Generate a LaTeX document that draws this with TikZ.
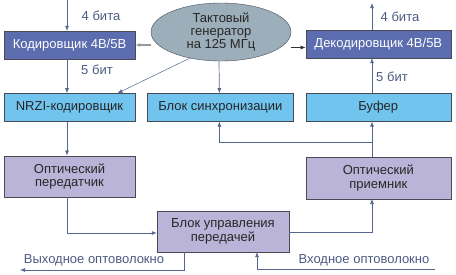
\documentclass[tikz,border=0pt]{standalone}
\usepackage{fontspec}
\setmainfont{Liberation Sans}
\usetikzlibrary{shapes.geometric, arrows.meta, positioning, calc}
\definecolor{codeblue}{HTML}{5B6DAE}
\definecolor{skyblue}{HTML}{70C4EE}
\definecolor{lavender}{HTML}{BAB4D8}
\definecolor{clkgray}{HTML}{9DAEBB}
\definecolor{boxedge}{HTML}{4A4A55}
\definecolor{wireblue}{HTML}{56678F}
\definecolor{labelblue}{HTML}{4B5A80}
\tikzset{
  blk/.style={
    rectangle, draw=boxedge, fill=#1, align=center,
    minimum height=28pt, inner sep=0pt,
    font=\fontsize{13}{13.5}\selectfont
  },
  darkbox/.style={blk=codeblue, text=white},
  lightbox/.style={blk=skyblue, text=black!85},
  lilabox/.style={blk=lavender, text=black!85, minimum height=41pt},
  clkgen/.style={
    ellipse, draw=boxedge, fill=clkgray, align=center,
    minimum width=140pt, minimum height=58pt, inner sep=0pt,
    font=\fontsize{13}{13}\selectfont, text=black!85
  },
  wire/.style={-{Latex[length=5pt,width=4pt]}, wireblue, line width=0.7pt},
  wirelabel/.style={text=labelblue, font=\fontsize{13}{13}\selectfont}
}

\begin{document}
\begin{tikzpicture}[x=1pt, y=-1pt, node distance=34pt]
  \useasboundingbox (0,0) rectangle (456,274);
  % generator and top row
  \node[clkgen] (clk) at (221,32) {Тактовый\\генератор\\на 125 МГц};
  \node[darkbox, minimum width=131pt] (enc) at (69.5,45) {Кодировщик 4B/5B};
  \node[lightbox, minimum width=131pt, below=34pt of enc] (nrzi) {NRZI-кодировщик};
  \node[lightbox, minimum width=146pt, right=12pt of nrzi] (sync) {Блок синхронизации};
  \node[lightbox, minimum width=145pt, right=12pt of sync] (buf) {Буфер};
  \node[darkbox, minimum width=145pt, above=35pt of buf] (dec) {Декодировщик 4B/5B};
  \node[lilabox, minimum width=131pt, below=34pt of nrzi] (tx) {Оптический\\передатчик};
  \node[lilabox, minimum width=145pt, below=35pt of buf, minimum height=42pt] (rx) {Оптический\\приемник};
  \node[lilabox, minimum width=132pt] (ctl) at (223,231.5) {Блок управления\\передачей};

  % free ends
  \coordinate (rcol) at (372,0);
  \coordinate (bitsin) at (67,0);
  \coordinate (bitsout) at (372,3);
  \coordinate (tap) at (372,142);
  \coordinate (fiberout) at (20,270);
  \coordinate (fiberin) at (435,269);

  % transmit path
  \draw[wire] (bitsin) -- (bitsin |- enc.north);
  \node[wirelabel] (lb4in) at (101,16) {4 бита};
  \draw[wire] (enc.south -| bitsin) -- (nrzi.north -| bitsin);
  \node[wirelabel] (lb5in) at (97,70) {5 бит};
  \draw[wire] (nrzi.south -| bitsin) -- (tx.north -| bitsin);
  \draw[wire] (tx.south -| bitsin) |- ([yshift=-1.5pt]ctl.west);
  \draw[wire] ([xshift=-39pt]ctl.south) |- (fiberout);
  \node[wirelabel] (lbout) at (94,260) {Выходное оптоволокно};

  % receive path
  \draw[wire] (fiberin) -| ([xshift=34pt]ctl.south);
  \node[wirelabel] (lbin) at (364,260) {Входное оптоволокно};
  \draw[wire] ([yshift=-0.5pt]ctl.east) -| (rcol |- rx.south);
  \draw[wire] (rcol |- rx.north) -- (rcol |- buf.south);
  \draw[wire] (tap) -| ([xshift=-1pt]sync.south);
  \draw[wire] (rcol |- buf.north) -- (rcol |- dec.south);
  \node[wirelabel] (lb5out) at (392,77) {5 бит};
  \draw[wire] (rcol |- dec.north) -- (bitsout);
  \node[wirelabel] (lb4out) at (400,17) {4 бита};

  % clock lines
  \draw[-{Latex[length=5pt,width=4pt]}, black!40, line width=1.6pt] (clk.west |- enc.east) -- (enc.east);
  \draw[-{Latex[length=5pt,width=4pt]}, black!80, line width=0.7pt] ([yshift=-3.5pt]dec.west -| clk.east) -- ([yshift=-3.5pt]dec.west);
  \draw[wire, line width=0.5pt] (clk.220) -- ([xshift=48pt]nrzi.north);
  \draw[wire] ([xshift=-2pt]clk.south) -- ([xshift=-1pt]sync.north);
\end{tikzpicture}
\end{document}
